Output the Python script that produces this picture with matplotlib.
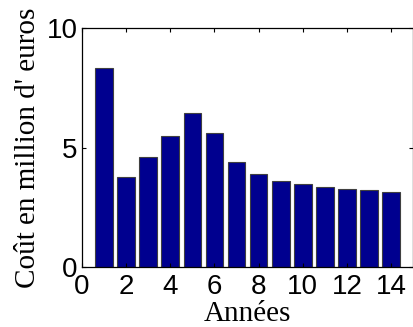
import matplotlib
matplotlib.use("Agg")
import matplotlib.pyplot as plt

annees = list(range(1, 15))
cout = [8.35, 3.77, 4.60, 5.50, 6.43, 5.63, 4.42, 3.88, 3.60, 3.49, 3.35, 3.28, 3.21, 3.14]
xticks = [0, 2, 4, 6, 8, 10, 12, 14]
yticks = [0, 5, 10]

fig = plt.figure(figsize=(4.14, 3.27), dpi=100)
ax = fig.add_axes([0.198, 0.183, 0.800, 0.731])

ax.bar(annees, cout, width=0.8, color="#00008F", edgecolor="#404040", linewidth=0.8)

ax.set_xlim(0, 15)
ax.set_ylim(0, 10)
ax.set_xticks(xticks)
ax.set_yticks(yticks)
ax.tick_params(direction="in", top=True, right=True, length=3, width=0.8,
               labelsize=20)
ax.tick_params(axis="x", pad=5)
ax.tick_params(axis="y", pad=3)
for lab in ax.get_xticklabels() + ax.get_yticklabels():
    lab.set_family("Liberation Sans")
for s in ax.spines.values():
    s.set_linewidth(0.9)

ax.set_xlabel("Années", family="Liberation Serif", fontsize=21, labelpad=1)
ax.set_ylabel("Coût en million d' euros", family="Liberation Serif", fontsize=21, labelpad=4)

fig.savefig("out.png", dpi=100)
